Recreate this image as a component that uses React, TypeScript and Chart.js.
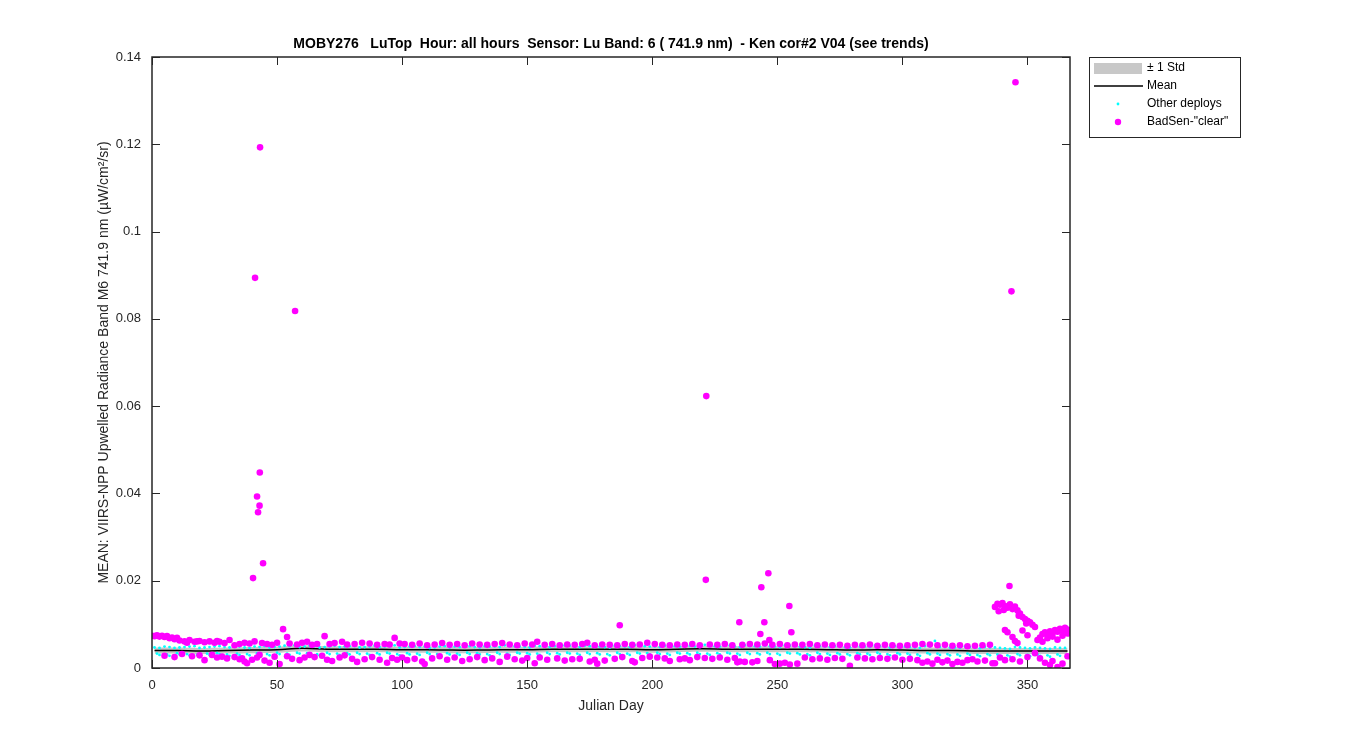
import React, { useEffect, useRef } from "react";
import { Chart, registerables } from "chart.js";

Chart.register(...registerables);

const TITLE = "MOBY276   LuTop  Hour: all hours  Sensor: Lu Band: 6 ( 741.9 nm)  - Ken cor#2 V04 (see trends)";
const X_LABEL = "Julian Day";
const Y_LABEL = "MEAN: VIIRS-NPP Upwelled Radiance Band M6 741.9 nm (\u00b5W/cm\u00b2/sr)";
const LEGEND_LABELS = ["\u00b1 1 Std", "Mean", "Other deploys", 'BadSen-"clear"'];

const X_TICKS = [0, 50, 100, 150, 200, 250, 300, 350];
const Y_TICKS = [0, 0.02, 0.04, 0.06, 0.08, 0.1, 0.12, 0.14];
const X_MIN = 0;
const X_MAX = 367;
const Y_MIN = 0;
const Y_MAX = 0.14;

// Mean and std curve
const meanDays = [1, 10, 20, 30, 40, 50, 60, 70, 80, 90, 100, 110, 120, 130, 140, 150, 160, 170, 180, 190, 200, 210, 220, 230, 240, 250, 260, 270, 280, 290, 300, 310, 320, 330, 340, 350, 360, 366];
const meanVals = [0.0040, 0.0040, 0.0039, 0.0040, 0.0041, 0.0042, 0.0045, 0.0043, 0.0043, 0.0043, 0.0042, 0.0042, 0.0041, 0.0041, 0.0042, 0.0042, 0.0043, 0.0043, 0.0043, 0.0043, 0.0042, 0.0043, 0.0044, 0.0043, 0.0043, 0.0043, 0.0043, 0.0042, 0.0041, 0.0042, 0.0041, 0.0040, 0.0040, 0.0039, 0.0039, 0.0039, 0.0039, 0.0039];
const stdVals = [0.0007, 0.0007, 0.0007, 0.0007, 0.0007, 0.0007, 0.0007, 0.0007, 0.0007, 0.0007, 0.0007, 0.0007, 0.0007, 0.0007, 0.0007, 0.0007, 0.0007, 0.0007, 0.0007, 0.0007, 0.0007, 0.0007, 0.0007, 0.0007, 0.0007, 0.0007, 0.0007, 0.0007, 0.0007, 0.0007, 0.0007, 0.0007, 0.0007, 0.0007, 0.0007, 0.0007, 0.0007, 0.0007];

// Other deploys (cyan)
const cyanDays = [1, 5, 9, 13, 17, 21, 25, 29, 33, 37, 41, 45, 49, 53, 57, 61, 65, 69, 73, 77, 81, 85, 89, 93, 97, 101, 105, 109, 113, 117, 121, 125, 129, 133, 137, 141, 145, 149, 153, 157, 161, 165, 169, 173, 177, 181, 185, 189, 193, 197, 201, 205, 209, 213, 217, 221, 225, 229, 233, 237, 241, 245, 249, 253, 257, 261, 265, 269, 273, 277, 281, 285, 289, 293, 297, 301, 305, 309, 313, 317, 321, 325, 329, 333, 337, 341, 345, 349, 353, 357, 361, 365];
const cyanHigh = [
  0.0047, 0.0049, 0.0046, 0.0048, 0.0050, 0.0047, 0.0049, 0.0048, 0.0051, 0.0047,
  0.0049, 0.0050, 0.0048, 0.0051, 0.0052, 0.0049, 0.0050, 0.0048, 0.0051, 0.0049,
  0.0050, 0.0048, 0.0051, 0.0049, 0.0052, 0.0048, 0.0050, 0.0049, 0.0047, 0.0050,
  0.0049, 0.0051, 0.0048, 0.0050, 0.0049, 0.0052, 0.0050, 0.0048, 0.0051, 0.0049,
  0.0050, 0.0052, 0.0049, 0.0051, 0.0050, 0.0048, 0.0051, 0.0049, 0.0052, 0.0050,
  0.0049, 0.0051, 0.0050, 0.0052, 0.0049, 0.0053, 0.0050, 0.0051, 0.0049, 0.0052,
  0.0050, 0.0051, 0.0049, 0.0052, 0.0050, 0.0048, 0.0051, 0.0049, 0.0050, 0.0048,
  0.0050, 0.0049, 0.0051, 0.0048, 0.0050, 0.0049, 0.0047, 0.0050, 0.0062, 0.0048,
  0.0047, 0.0049, 0.0046, 0.0048, 0.0047, 0.0045, 0.0048, 0.0046, 0.0047, 0.0045,
  0.0047, 0.0046,
];
const cyanLow = [
  0.0030, 0.0028, 0.0031, 0.0029, 0.0027, 0.0030, 0.0032, 0.0028, 0.0030, 0.0029,
  0.0031, 0.0029, 0.0032, 0.0030, 0.0033, 0.0031, 0.0029, 0.0032, 0.0030, 0.0031,
  0.0032, 0.0030, 0.0031, 0.0033, 0.0029, 0.0031, 0.0030, 0.0032, 0.0029, 0.0031,
  0.0030, 0.0032, 0.0031, 0.0029, 0.0032, 0.0030, 0.0033, 0.0031, 0.0030, 0.0032,
  0.0031, 0.0033, 0.0030, 0.0032, 0.0031, 0.0029, 0.0032, 0.0030, 0.0033, 0.0031,
  0.0032, 0.0030, 0.0033, 0.0031, 0.0032, 0.0030, 0.0031, 0.0033, 0.0030, 0.0032,
  0.0031, 0.0032, 0.0030, 0.0033, 0.0031, 0.0029, 0.0032, 0.0030, 0.0031, 0.0029,
  0.0031, 0.0030, 0.0032, 0.0029, 0.0031, 0.0030, 0.0028, 0.0031, 0.0030, 0.0029,
  0.0028, 0.0030, 0.0027, 0.0029, 0.0028, 0.0026, 0.0029, 0.0027, 0.0028, 0.0026,
  0.0028, 0.0027,
];
const cyanDays2 = [3, 7, 11, 15, 19, 23, 27, 31, 35, 39, 43, 47, 51, 55, 59, 63, 67, 71, 75, 79, 83, 87, 91, 95, 99, 103, 107, 111, 115, 119, 123, 127, 131, 135, 139, 143, 147, 151, 155, 159, 163, 167, 171, 175, 179, 183, 187, 191, 195, 199, 203, 207, 211, 215, 219, 223, 227, 231, 235, 239, 243, 247, 251, 255, 259, 263, 267, 271, 275, 279, 283, 287, 291, 295, 299, 303, 307, 311, 315, 319, 323, 327, 331, 335, 339, 343, 347, 351, 355, 359, 363];
const cyanHigh2 = [
  0.0046, 0.0048, 0.0047, 0.0049, 0.0046, 0.0048, 0.0050, 0.0047, 0.0049, 0.0046,
  0.0048, 0.0047, 0.0049, 0.0050, 0.0048, 0.0051, 0.0047, 0.0049, 0.0048, 0.0050,
  0.0047, 0.0049, 0.0048, 0.0050, 0.0047, 0.0049, 0.0048, 0.0046, 0.0049, 0.0047,
  0.0048, 0.0050, 0.0047, 0.0049, 0.0048, 0.0050, 0.0049, 0.0047, 0.0050, 0.0048,
  0.0049, 0.0051, 0.0048, 0.0050, 0.0049, 0.0047, 0.0050, 0.0048, 0.0051, 0.0049,
  0.0048, 0.0050, 0.0049, 0.0051, 0.0048, 0.0050, 0.0049, 0.0052, 0.0048, 0.0050,
  0.0049, 0.0050, 0.0048, 0.0051, 0.0049, 0.0047, 0.0050, 0.0048, 0.0049, 0.0047,
  0.0049, 0.0048, 0.0050, 0.0047, 0.0049, 0.0048, 0.0046, 0.0049, 0.0048, 0.0047,
  0.0046, 0.0048, 0.0045, 0.0047, 0.0046, 0.0044, 0.0047, 0.0045, 0.0046, 0.0044,
  0.0046,
];
const cyanLow2 = [
  0.0033, 0.0031, 0.0034, 0.0032, 0.0030, 0.0033, 0.0034, 0.0031, 0.0033, 0.0032,
  0.0034, 0.0032, 0.0035, 0.0033, 0.0035, 0.0034, 0.0032, 0.0035, 0.0033, 0.0034,
  0.0035, 0.0033, 0.0034, 0.0035, 0.0032, 0.0034, 0.0033, 0.0035, 0.0032, 0.0034,
  0.0033, 0.0035, 0.0034, 0.0032, 0.0035, 0.0033, 0.0035, 0.0034, 0.0033, 0.0035,
  0.0034, 0.0035, 0.0033, 0.0035, 0.0034, 0.0032, 0.0035, 0.0033, 0.0035, 0.0034,
  0.0035, 0.0033, 0.0035, 0.0034, 0.0035, 0.0033, 0.0034, 0.0035, 0.0033, 0.0035,
  0.0034, 0.0035, 0.0033, 0.0035, 0.0034, 0.0032, 0.0035, 0.0033, 0.0034, 0.0032,
  0.0034, 0.0033, 0.0035, 0.0032, 0.0034, 0.0033, 0.0031, 0.0034, 0.0033, 0.0032,
  0.0031, 0.0033, 0.0030, 0.0032, 0.0031, 0.0029, 0.0032, 0.0030, 0.0031, 0.0029,
  0.0031,
];

// BadSen-"clear" (magenta)
const badDays = [
  0, 1, 2, 3, 4, 5, 6, 7, 8, 9, 10, 5, 9,
  11, 13, 15, 17, 19, 21, 23, 25, 27, 29, 31, 14, 18, 26,
  12, 16, 21, 24, 28, 30, 33, 35, 37, 38, 36, 19, 26,
  33, 35, 37, 39, 41, 44, 46, 48, 50,
  40, 42, 45, 47, 49, 51, 43,
  40.4, 41.2, 42, 42.4, 43, 43.2, 43.1, 44.4, 52.4, 54, 57.2,
  55, 58, 60, 62, 64, 66, 69, 71, 73, 76, 78, 81, 84, 87, 90, 93, 95, 97, 99,
  54, 56, 59, 61, 63, 65, 68, 70, 72, 75, 77, 80, 82, 85, 88, 91, 94, 96, 98,
  101, 104, 107, 110, 113, 116, 119, 122, 125, 128, 131, 134, 137, 140, 143, 146, 149,
  100, 102, 105, 108, 109, 112, 115, 118, 121, 124, 127, 130, 133, 136, 139, 142, 145, 148, 150,
  152, 154, 157, 160, 163, 166, 169, 172, 174, 177, 180, 183, 186, 189, 192, 195, 198, 201, 204, 207, 210, 213, 216, 219, 223, 226, 229, 232,
  153, 155, 158, 162, 165, 168, 171, 175, 177, 178, 181, 185, 188, 192, 193, 196, 199, 202, 205, 207, 211, 213, 215, 218, 221, 224, 227, 230, 233, 234,
  187, 221.6, 221.4, 234.8, 243.6, 246.4, 244.8, 243.2, 246.8, 254.8, 255.6,
  236, 239, 242, 245, 248, 251, 254, 257, 260, 263, 266, 269, 272, 275, 278, 281, 284, 287, 290, 293, 296, 299,
  235, 237, 240, 242, 247, 249, 251, 253, 255, 258, 261, 264, 267, 270, 273, 276, 279, 282, 285, 288, 291, 294, 297, 300,
  302, 305, 308, 311, 314, 317, 320, 323, 326, 329, 332, 335,
  303, 306, 308, 310, 312, 314, 316, 318, 320, 322, 324, 326, 328, 330, 333, 336,
  337, 338, 339, 340, 341, 342, 343, 344, 345, 346, 347, 348, 349, 350, 351, 352, 353, 342.8, 343.6, 345.2,
  338.5, 340.5, 346.5, 349.5, 341, 342, 344, 345, 346, 348, 350,
  354, 355, 356, 357, 358, 359, 360, 361, 362, 363, 364, 365, 366, 356, 358, 360, 362, 364, 366,
  337, 339, 341, 344, 347, 350, 353, 355, 357, 359, 360, 362, 364, 366,
];
const badVals = [
  0.0074, 0.0073, 0.0075, 0.0072, 0.0074, 0.0071, 0.0073, 0.0068, 0.0070, 0.0066, 0.0069, 0.0028, 0.0025,
  0.0063, 0.0061, 0.0064, 0.0060, 0.0062, 0.0059, 0.0061, 0.0058, 0.0060, 0.0057, 0.0064, 0.0058, 0.0061, 0.0062,
  0.0032, 0.0027, 0.0018, 0.0030, 0.0026, 0.0022, 0.0025, 0.0020, 0.0015, 0.0011, 0.0022, 0.0029, 0.0024,
  0.0052, 0.0055, 0.0058, 0.0056, 0.0061, 0.0057, 0.0055, 0.0053, 0.0058,
  0.0019, 0.0024, 0.0017, 0.0012, 0.0026, 0.0009, 0.0030,
  0.0206, 0.0894, 0.0393, 0.0357, 0.0372, 0.1193, 0.0448, 0.0240, 0.0089, 0.0071, 0.0818,
  0.0056, 0.0054, 0.0058, 0.0060, 0.0053, 0.0055, 0.0073, 0.0055, 0.0057, 0.0060, 0.0054, 0.0055, 0.0058, 0.0056, 0.0053, 0.0055, 0.0054, 0.0069, 0.0056,
  0.0027, 0.0021, 0.0018, 0.0024, 0.0030, 0.0025, 0.0028, 0.0019, 0.0016, 0.0024, 0.0029, 0.0021, 0.0014, 0.0020, 0.0025, 0.0019, 0.0012, 0.0023, 0.0019,
  0.0055, 0.0053, 0.0056, 0.0052, 0.0054, 0.0057, 0.0053, 0.0055, 0.0052, 0.0056, 0.0054, 0.0053, 0.0055, 0.0057, 0.0054, 0.0052, 0.0056,
  0.0024, 0.0018, 0.0021, 0.0015, 0.0009, 0.0022, 0.0027, 0.0019, 0.0024, 0.0016, 0.0020, 0.0025, 0.0018, 0.0022, 0.0014, 0.0026, 0.0020, 0.0017, 0.0023,
  0.0054, 0.0060, 0.0053, 0.0055, 0.0052, 0.0054, 0.0053, 0.0055, 0.0058, 0.0052, 0.0054, 0.0053, 0.0052, 0.0055, 0.0053, 0.0054, 0.0058, 0.0055, 0.0053, 0.0052, 0.0054, 0.0053, 0.0055, 0.0052, 0.0054, 0.0053, 0.0055, 0.0052,
  0.0011, 0.0024, 0.0019, 0.0022, 0.0017, 0.0020, 0.0021, 0.0015, 0.0019, 0.0010, 0.0017, 0.0021, 0.0025, 0.0016, 0.0013, 0.0023, 0.0026, 0.0024, 0.0022, 0.0016, 0.0020, 0.0022, 0.0018, 0.0025, 0.0023, 0.0021, 0.0024, 0.0019, 0.0023, 0.0013,
  0.0098, 0.0623, 0.0202, 0.0105, 0.0185, 0.0217, 0.0105, 0.0078, 0.0064, 0.0142, 0.0082,
  0.0053, 0.0055, 0.0054, 0.0056, 0.0053, 0.0055, 0.0052, 0.0054, 0.0053, 0.0055, 0.0052, 0.0054, 0.0052, 0.0053, 0.0051, 0.0053, 0.0052, 0.0054, 0.0051, 0.0053, 0.0052, 0.0051,
  0.0015, 0.0014, 0.0013, 0.0016, 0.0018, 0.0009, 0.0010, 0.0012, 0.0008, 0.0010, 0.0024, 0.0020, 0.0022, 0.0019, 0.0023, 0.0021, 0.0005, 0.0024, 0.0022, 0.0020, 0.0023, 0.0021, 0.0024, 0.0019,
  0.0052, 0.0053, 0.0055, 0.0054, 0.0052, 0.0053, 0.0051, 0.0052, 0.0050, 0.0051, 0.0052, 0.0053,
  0.0021, 0.0018, 0.0012, 0.0015, 0.0010, 0.0019, 0.0013, 0.0017, 0.0009, 0.0014, 0.0012, 0.0018, 0.0020, 0.0015, 0.0017, 0.0011,
  0.0140, 0.0147, 0.0145, 0.0149, 0.0142, 0.0138, 0.0146, 0.0135, 0.0141, 0.0132, 0.0125, 0.0117, 0.0112, 0.0108, 0.0105, 0.0099, 0.0094, 0.0188, 0.0863, 0.1342,
  0.0130, 0.0133, 0.0120, 0.0102, 0.0087, 0.0082, 0.0071, 0.0062, 0.0057, 0.0086, 0.0075,
  0.0064, 0.0070, 0.0078, 0.0082, 0.0075, 0.0084, 0.0080, 0.0087, 0.0083, 0.0090, 0.0086, 0.0092, 0.0079, 0.0060, 0.0068, 0.0072, 0.0065, 0.0074, 0.0088,
  0.0011, 0.0024, 0.0018, 0.0020, 0.0015, 0.0025, 0.0034, 0.0022, 0.0012, 0.0007, 0.0016, 0.0002, 0.0010, 0.0027,
];

const AXIS_COLOR = "#262626";
const FONT = "'Liberation Sans', Arial, Helvetica, sans-serif";

const decorPlugin = {
  id: "decor",
  afterDraw(chart: any) {
    const { ctx, chartArea } = chart;
    const { left, right, top, bottom } = chartArea;
    const xs = chart.scales.x;
    const ys = chart.scales.y;
    ctx.save();
    // frame
    ctx.strokeStyle = AXIS_COLOR;
    ctx.lineWidth = 1.5;
    ctx.strokeRect(left, top, right - left, bottom - top);
    // inward ticks
    ctx.lineWidth = 1;
    const tl = 8;
    ctx.beginPath();
    X_TICKS.forEach((t) => {
      const px = Math.round(xs.getPixelForValue(t)) + 0.5;
      ctx.moveTo(px, bottom);
      ctx.lineTo(px, bottom - tl);
      ctx.moveTo(px, top);
      ctx.lineTo(px, top + tl);
    });
    Y_TICKS.forEach((t) => {
      const py = Math.round(ys.getPixelForValue(t)) + 0.5;
      ctx.moveTo(left, py);
      ctx.lineTo(left + tl, py);
      ctx.moveTo(right, py);
      ctx.lineTo(right - tl, py);
    });
    ctx.stroke();

    // title
    ctx.fillStyle = "#000";
    ctx.font = `bold 14px ${FONT}`;
    ctx.textAlign = "center";
    ctx.textBaseline = "middle";
    ctx.fillText(TITLE, (left + right) / 2, 44);

    // x label
    ctx.fillStyle = AXIS_COLOR;
    ctx.font = `14px ${FONT}`;
    ctx.fillText(X_LABEL, (left + right) / 2, 706);

    // y label
    ctx.save();
    ctx.translate(104, (top + bottom) / 2);
    ctx.rotate(-Math.PI / 2);
    ctx.fillText(Y_LABEL, 0, 0);
    ctx.restore();

    // legend
    const lx = 1089.5, ly = 57.5, lw = 151, lh = 80;
    ctx.fillStyle = "#fff";
    ctx.fillRect(lx, ly, lw, lh);
    ctx.strokeStyle = AXIS_COLOR;
    ctx.lineWidth = 1;
    ctx.strokeRect(lx, ly, lw, lh);
    const rows = [68, 86, 104, 122];
    ctx.fillStyle = "#c8c8c8";
    ctx.fillRect(1094, 63, 48, 11);
    ctx.strokeStyle = "#000";
    ctx.lineWidth = 1.5;
    ctx.beginPath();
    ctx.moveTo(1094, rows[1]);
    ctx.lineTo(1143, rows[1]);
    ctx.stroke();
    ctx.fillStyle = "#00ffff";
    ctx.beginPath();
    ctx.arc(1118, rows[2], 1.4, 0, Math.PI * 2);
    ctx.fill();
    ctx.fillStyle = "#ff00ff";
    ctx.beginPath();
    ctx.arc(1118, rows[3], 3.2, 0, Math.PI * 2);
    ctx.fill();
    ctx.fillStyle = "#000";
    ctx.font = `12px ${FONT}`;
    ctx.textAlign = "left";
    LEGEND_LABELS.forEach((lab, i) => {
      ctx.fillText(lab, 1147, rows[i]);
    });
    ctx.restore();
  },
};

export default function App() {
  const ref = useRef<HTMLCanvasElement>(null);
  useEffect(() => {
    const canvas = ref.current;
    if (!canvas) return;
    const upper = meanDays.map((d, i) => ({ x: d, y: meanVals[i] + stdVals[i] }));
    const lower = meanDays.map((d, i) => ({ x: d, y: meanVals[i] - stdVals[i] }));
    const mean = meanDays.map((d, i) => ({ x: d, y: meanVals[i] }));
    const cyan: { x: number; y: number }[] = [];
    cyanDays.forEach((d, i) => {
      cyan.push({ x: d, y: cyanHigh[i] });
      cyan.push({ x: d + 2, y: cyanLow[i] });
    });
    cyanDays2.forEach((d, i) => {
      cyan.push({ x: d, y: cyanHigh2[i] });
      cyan.push({ x: d - 1, y: cyanLow2[i] });
    });
    const bad = badDays.map((d, i) => ({ x: d, y: badVals[i] }));

    const chart = new Chart(canvas, {
      type: "scatter",
      data: {
        datasets: [
          {
            type: "line",
            label: "upper",
            data: upper,
            borderWidth: 0,
            borderColor: "rgba(0,0,0,0)",
            pointRadius: 0,
            fill: "+1",
            backgroundColor: "#c8c8c8",
            tension: 0.4,
            order: 4,
          } as any,
          {
            type: "line",
            label: "lower",
            data: lower,
            borderWidth: 0,
            borderColor: "rgba(0,0,0,0)",
            pointRadius: 0,
            fill: false,
            tension: 0.4,
            order: 4,
          },
          {
            type: "line",
            label: "Mean",
            data: mean,
            borderWidth: 1.5,
            borderColor: "#000",
            pointRadius: 0,
            fill: false,
            tension: 0.4,
            order: 3,
          },
          {
            label: "Other deploys",
            data: cyan,
            pointRadius: 1.4,
            pointBorderWidth: 0,
            backgroundColor: "#00ffff",
            borderColor: "#00ffff",
            order: 2,
          },
          {
            label: 'BadSen-"clear"',
            data: bad,
            pointRadius: 3.3,
            pointBorderWidth: 0,
            backgroundColor: "#ff00ff",
            borderColor: "#ff00ff",
            order: 1,
          },
        ],
      },
      options: {
        animation: false,
        responsive: false,
        events: [],
        layout: { padding: { left: 0, right: 280, top: 57, bottom: 0 } },
        plugins: {
          legend: { display: false },
          title: { display: false },
          tooltip: { enabled: false },
        },
        scales: {
          x: {
            type: "linear",
            min: X_MIN,
            max: X_MAX,
            grid: { display: false, drawTicks: false },
            border: { display: false },
            ticks: {
              color: AXIS_COLOR,
              font: { family: FONT, size: 13 },
              padding: 10,
              maxRotation: 0,
              autoSkip: false,
            },
            afterBuildTicks: (s: any) => {
              s.ticks = X_TICKS.map((v) => ({ value: v }));
            },
            afterFit: (s: any) => {
              s.height = 82;
            },
          },
          y: {
            type: "linear",
            min: Y_MIN,
            max: Y_MAX,
            grid: { display: false, drawTicks: false },
            border: { display: false },
            ticks: {
              color: AXIS_COLOR,
              font: { family: FONT, size: 13 },
              padding: 11,
              autoSkip: false,
              callback: (v: any) => String(+Number(v).toFixed(4)),
            },
            afterBuildTicks: (s: any) => {
              s.ticks = Y_TICKS.map((v) => ({ value: v }));
            },
            afterFit: (s: any) => {
              s.width = 152;
            },
          },
        },
      },
      plugins: [decorPlugin],
    });
    return () => chart.destroy();
  }, []);

  return (
    <div style={{ position: "fixed", left: 0, top: 0, width: 1350, height: 750, background: "#fff" }}>
      <canvas ref={ref} width={1350} height={750} style={{ width: 1350, height: 750, display: "block" }} />
    </div>
  );
}
